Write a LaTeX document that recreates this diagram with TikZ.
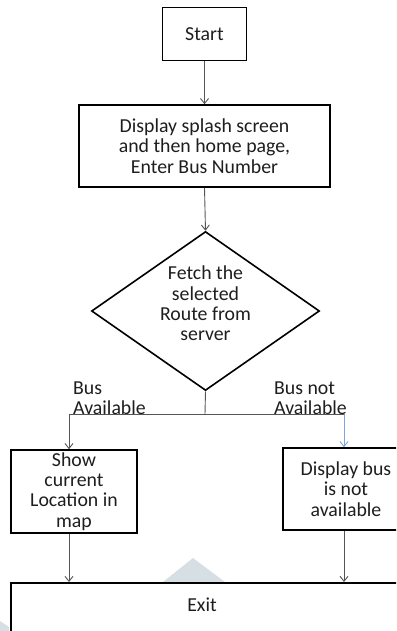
\documentclass[tikz,border=0pt]{standalone}
\usepackage{fontspec}
\setmainfont{Carlito}
\usetikzlibrary{shapes.geometric,arrows.meta}
\definecolor{bl}{HTML}{7FA6D8}
\definecolor{wmc}{HTML}{D6DFE3}
\definecolor{tx}{HTML}{1E1E1E}
\definecolor{cn}{HTML}{555555}
\begin{document}
\begin{tikzpicture}[x=1pt,y=-1pt,
  every node/.style={font=\fontsize{19.8}{20.3}\selectfont,text=tx},
  box/.style={draw=black,line width=1.6pt,align=center,inner sep=0pt},
  txt/.style={align=center,inner sep=0pt},
  lbl/.style={align=left,inner sep=0pt,anchor=west},
  conn/.style={draw=cn,line width=0.9pt},
  arr/.style={conn,-{Straight Barb[length=5pt,width=8pt]}},
  barr/.style={draw=bl,line width=0.9pt,-{Straight Barb[length=5pt,width=8pt]}},
  wm/.style={fill=wmc}]
\useasboundingbox (0,0) rectangle (396,631);
\clip (0,0) rectangle (396,631);
\fill[white] (0,0) rectangle (396,631);
% watermark shapes
\fill[wm] (163,582) -- (193,558) -- (225,582) -- cycle;
\fill[wm] (0,621) -- (9,627) -- (9,631) -- (0,631) -- cycle;
% nodes
\node[box,minimum width=84pt,minimum height=53pt] (start) at (204.5,34) {Start};
\node[box,minimum width=251pt,minimum height=82pt] (disp) at (204.5,146) {Display splash screen\\and then home page,\\Enter Bus Number};
\node[diamond,draw=black,line width=1.6pt,minimum width=228pt,minimum height=159pt,inner sep=0pt] (dec) at (205.5,311) {};
\node[txt] (dectext) at (205.5,303.5) {Fetch the\\selected\\Route from\\server};
\coordinate (j) at (205,414);
\coordinate (jl) at (69,414);
\coordinate (jr) at (344,414);
\node[box,minimum width=126pt,minimum height=83pt] (show) at (74,491.5) {Show\\current\\Location in\\map};
\node[box,minimum width=126pt,minimum height=82pt] (na) at (346,489) {Display bus\\is not\\available};
\node[box,anchor=north west,minimum width=400pt,minimum height=80pt] (exit) at (10,582) {};
\node[txt] (exittext) at (202,605) {Exit};
\node[lbl] (lav) at (73,398) {Bus\\Available};
\node[lbl] (lnav) at (274,398) {Bus not\\Available};
% connectors
\draw[arr] (start.south) -- (disp.north);
\draw[arr] (disp.south) -- (dec.north);
\draw[conn] (dec.south) -- (j);
\draw[conn] (jl) -- (jr);
\draw[arr] (jl) -- (jl |- show.north);
\draw[barr] (jr) -- (jr |- na.north);
\draw[arr] (show.south -| jl) -- (jl |- exit.north);
\draw[arr] (na.south -| jr) -- (jr |- exit.north);
\end{tikzpicture}
\end{document}
